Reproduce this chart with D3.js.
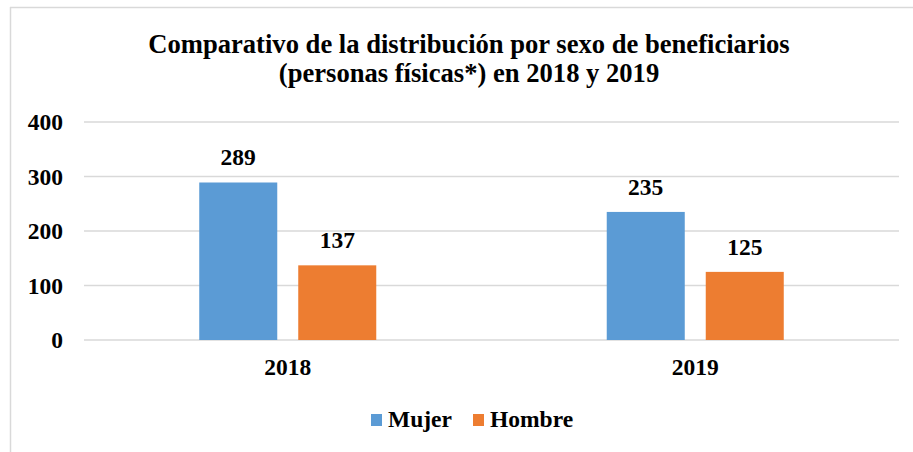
<!DOCTYPE html>
<html>
<head>
<meta charset="utf-8">
<script src="https://cdn.jsdelivr.net/npm/d3@7"></script>
</head>
<body style="margin:0; background:#fff">
<div id="chart"></div>
<script>
var years = ["2018", "2019"];
var series = ["Mujer", "Hombre"];
var mujer = [289, 235];
var hombre = [137, 125];
var yTicks = [0, 100, 200, 300, 400];
var titleLines = ["Comparativo de la distribución por sexo de beneficiarios",
                  "(personas físicas*) en 2018 y 2019"];

var colors = {Mujer: "#5B9BD5", Hombre: "#ED7D31"};
var values = {Mujer: mujer, Hombre: hombre};
var FONT = "'Liberation Serif'";

var W = 913, H = 452;
var margin = {top: 122, right: 14, bottom: 112, left: 84},
    width = W - margin.left - margin.right,
    height = H - margin.top - margin.bottom;

var svg = d3.select("#chart")
  .append("svg")
    .attr("width", W)
    .attr("height", H);

function serif(sel, size) {
  sel.style("font-family", FONT)
     .style("font-weight", "bold")
     .style("font-size", size + "px")
     .attr("fill", "#000");
}

// chart frame (only top and left edges show in the crop)
svg.append("line")
    .attr("x1", 10).attr("x2", W).attr("y1", 7.5).attr("y2", 7.5)
    .attr("stroke", "#D9D9D9").attr("stroke-width", 1.5);
svg.append("line")
    .attr("x1", 10.5).attr("x2", 10.5).attr("y1", 7).attr("y2", H)
    .attr("stroke", "#D9D9D9").attr("stroke-width", 1.5);

svg.selectAll(".title")
    .data(titleLines)
  .enter().append("text")
    .attr("class", "title")
    .attr("x", 469)
    .attr("y", function(d, i) { return 53 + i * 29; })
    .attr("text-anchor", "middle")
    .call(serif, 26.6)
    .text(function(d) { return d; });

var g = svg.append("g")
    .attr("transform", "translate(" + margin.left + "," + margin.top + ")");

var y = d3.scaleLinear()
    .domain([0, 400])
    .range([height, 0]);

var x0 = d3.scaleBand()
    .domain(years)
    .range([0, width]);

var x1 = d3.scaleBand()
    .domain(series)
    .range([0, x0.bandwidth()])
    .paddingInner(0.212)
    .paddingOuter(1.164);

// gridlines
g.selectAll(".grid")
    .data(yTicks)
  .enter().append("line")
    .attr("x1", 0).attr("x2", width)
    .attr("y1", function(d) { return y(d); })
    .attr("y2", function(d) { return y(d); })
    .attr("stroke", "#D9D9D9")
    .attr("stroke-width", 1.5);

// y axis labels
var yAxis = g.append("g")
    .call(d3.axisLeft(y).tickValues(yTicks).tickSize(0).tickPadding(21));
yAxis.select(".domain").remove();
yAxis.attr("font-family", null).attr("font-size", null);
yAxis.selectAll("text").call(serif, 23.5);

// x axis labels
var xAxis = g.append("g")
    .attr("transform", "translate(0," + height + ")")
    .call(d3.axisBottom(x0).tickSize(0).tickPadding(18));
xAxis.select(".domain").remove();
xAxis.attr("font-family", null).attr("font-size", null);
xAxis.selectAll("text").call(serif, 23.5);

var groups = g.selectAll(".year")
    .data(years)
  .enter().append("g")
    .attr("transform", function(d) { return "translate(" + x0(d) + ",0)"; });

function rows(d, i) {
  return series.map(function(s) { return {s: s, v: values[s][i]}; });
}

groups.selectAll("rect")
    .data(rows)
  .enter().append("rect")
    .attr("x", function(d) { return x1(d.s); })
    .attr("y", function(d) { return y(d.v); })
    .attr("width", x1.bandwidth())
    .attr("height", function(d) { return height - y(d.v); })
    .attr("fill", function(d) { return colors[d.s]; });

groups.selectAll(".lbl")
    .data(rows)
  .enter().append("text")
    .attr("class", "lbl")
    .attr("x", function(d) { return x1(d.s) + x1.bandwidth() / 2; })
    .attr("y", function(d) { return y(d.v) - 17; })
    .attr("text-anchor", "middle")
    .call(serif, 23.5)
    .text(function(d) { return d.v; });

// legend
var legendX = [371, 473];
var legend = svg.selectAll(".legend")
    .data(series)
  .enter().append("g")
    .attr("transform", function(d, i) { return "translate(" + legendX[i] + ",414)"; });
legend.append("rect")
    .attr("width", 11).attr("height", 12)
    .attr("fill", function(d) { return colors[d]; });
legend.append("text")
    .attr("x", 17)
    .attr("y", 13)
    .call(serif, 23.5)
    .text(function(d) { return d; });
</script>
</body>
</html>
